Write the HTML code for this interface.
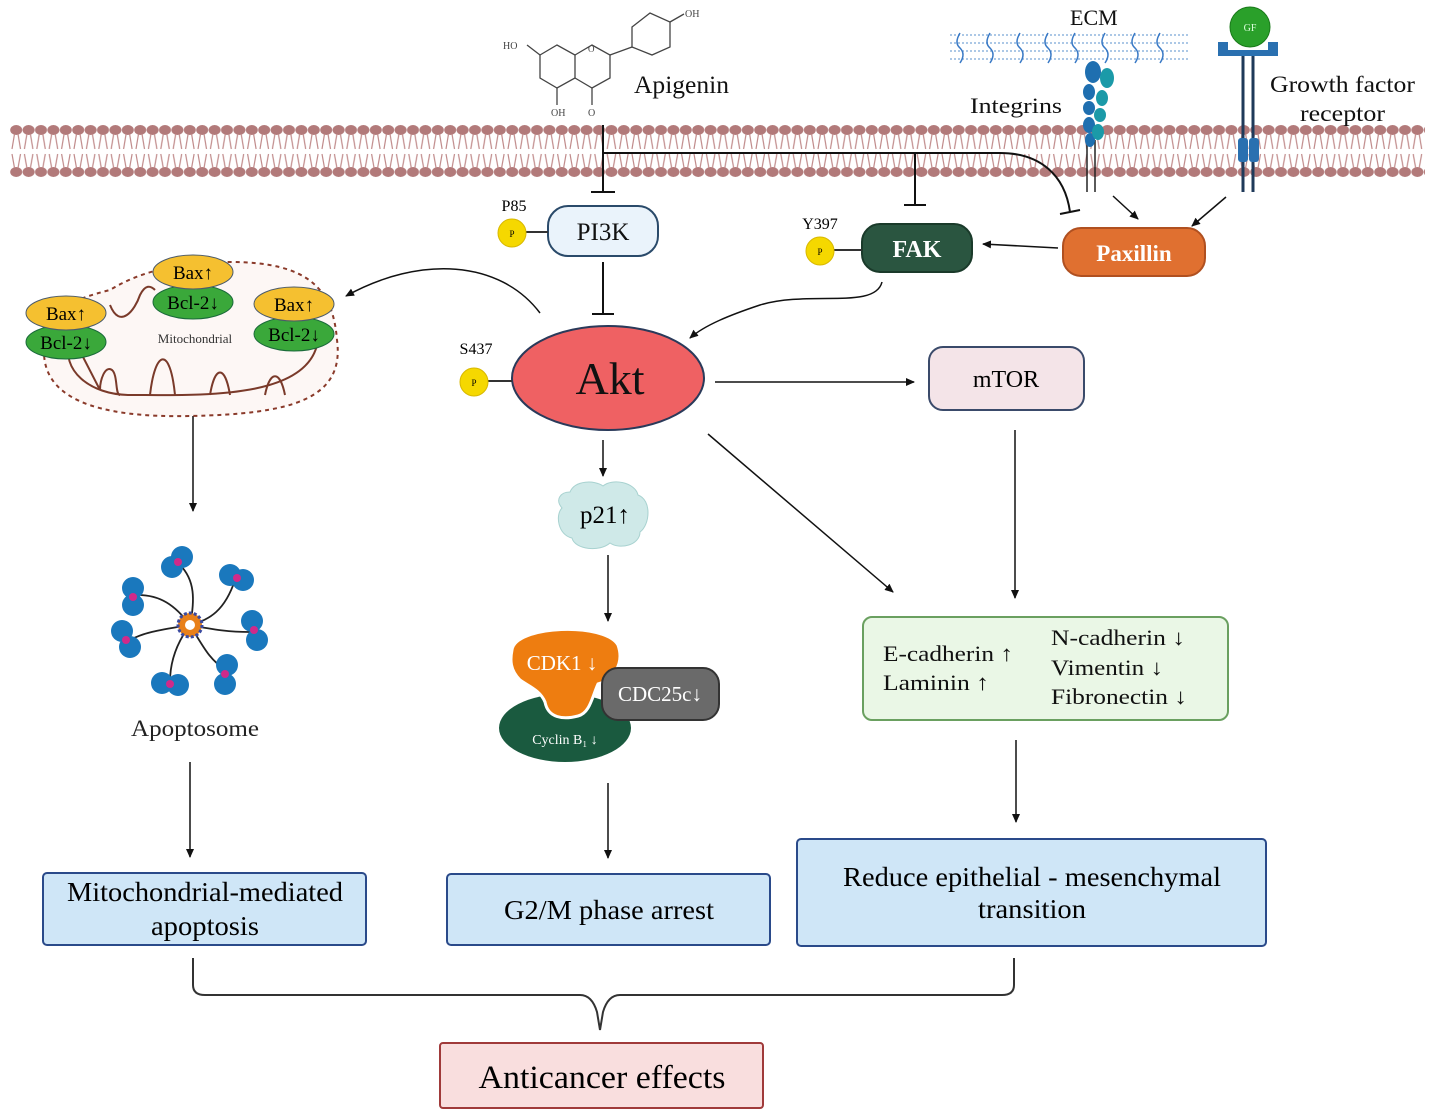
<!DOCTYPE html>
<html><head><meta charset="utf-8"><style>
html,body{margin:0;padding:0;background:#fff;}
svg{display:block;}
text{font-family:"Liberation Serif",serif;}
</style></head><body>
<svg width="1430" height="1114" viewBox="0 0 1430 1114" xmlns="http://www.w3.org/2000/svg">
<defs>
<pattern id="mem" x="10" y="120" width="12.4" height="60" patternUnits="userSpaceOnUse">
<ellipse cx="6.2" cy="10" rx="6" ry="5" fill="#b27a7a"/>
<ellipse cx="6.2" cy="52" rx="6" ry="5" fill="#b27a7a"/>
<path d="M4.5 14 L2 29 M8 14 L10.5 29 M4.5 48 L2 34 M8 48 L10.5 34" stroke="#c08a8a" stroke-width="1.2"/>
</pattern>
<marker id="ar" markerWidth="10" markerHeight="10" refX="8" refY="5" orient="auto" markerUnits="userSpaceOnUse"><path d="M0 1 L9 5 L0 9 Z" fill="#111"/></marker>
</defs>

<rect x="10" y="120" width="1415" height="60" fill="url(#mem)"/>

<!-- apigenin -->
<g stroke="#444" stroke-width="1.3" fill="none">
<path d="M540 55 L557 45 L575 55 L575 78 L557 88 L540 78 Z"/>
<path d="M575 55 L592 45 L610 55 L610 78 L592 88 L575 78"/>
<path d="M632 27 L650 13 L670 22 L670 47 L652 55 L632 47 Z"/>
<path d="M610 55 L632 47 M527 45 L540 55 M557 88 L557 105 M592 88 L592 105 M670 22 L684 14"/>
</g>
<text x="503" y="49" font-size="10" fill="#444">HO</text>
<text x="551" y="116" font-size="10" fill="#444">OH</text>
<text x="588" y="116" font-size="10" fill="#444">O</text>
<text x="588" y="52" font-size="9" fill="#444">O</text>
<text x="685" y="17" font-size="10" fill="#444">OH</text>
<text x="634" y="93" font-size="25" fill="#111" textLength="95" lengthAdjust="spacingAndGlyphs">Apigenin</text>

<!-- ECM -->
<g stroke="#7aa6d6" stroke-width="1.2" fill="none" stroke-dasharray="2 2">
<path d="M950 35 H1190 M950 43 H1190 M950 51 H1190 M950 59 H1190"/>
</g>
<g stroke="#3a7ac6" stroke-width="1.5" fill="none">
<path d="M960 33 q-6 10 0 15 q6 6 0 15"/><path d="M990 33 q-6 10 0 15 q6 6 0 15"/>
<path d="M1020 33 q-6 10 0 15 q6 6 0 15"/><path d="M1048 33 q-6 10 0 15 q6 6 0 15"/>
<path d="M1075 33 q-6 10 0 15 q6 6 0 15"/><path d="M1105 33 q-6 10 0 15 q6 6 0 15"/>
<path d="M1135 33 q-6 10 0 15 q6 6 0 15"/><path d="M1160 33 q-6 10 0 15 q6 6 0 15"/>
</g>
<text x="1070" y="25" font-size="22" fill="#111">ECM</text>
<text x="970" y="113" font-size="22" fill="#111" textLength="92" lengthAdjust="spacingAndGlyphs">Integrins</text>
<text x="1270" y="92" font-size="23" fill="#111" textLength="145" lengthAdjust="spacingAndGlyphs">Growth factor</text>
<text x="1300" y="121" font-size="23" fill="#111" textLength="85" lengthAdjust="spacingAndGlyphs">receptor</text>

<!-- integrin -->
<g stroke="#222" stroke-width="1.5"><line x1="1087" y1="140" x2="1087" y2="192"/><line x1="1095" y1="140" x2="1095" y2="192"/></g>
<g fill="#1f6fb0"><ellipse cx="1093" cy="72" rx="8" ry="11"/><ellipse cx="1089" cy="92" rx="6" ry="8"/><ellipse cx="1089" cy="108" rx="6" ry="7"/><ellipse cx="1089" cy="125" rx="6" ry="8"/><ellipse cx="1090" cy="140" rx="5" ry="7"/></g>
<g fill="#1b9aa8"><ellipse cx="1107" cy="78" rx="7" ry="10"/><ellipse cx="1102" cy="98" rx="6" ry="8"/><ellipse cx="1100" cy="115" rx="6" ry="7"/><ellipse cx="1098" cy="132" rx="6" ry="8"/></g>

<!-- GF receptor -->
<g stroke="#1f3a5a" stroke-width="3"><line x1="1243" y1="50" x2="1243" y2="192"/><line x1="1253" y1="50" x2="1253" y2="192"/></g>
<path d="M1218 42 h10 v8 h40 v-8 h10 v14 h-60 z" fill="#2a70b0"/>
<rect x="1238" y="138" width="10" height="24" rx="3" fill="#2a70b0"/><rect x="1249" y="138" width="10" height="24" rx="3" fill="#2a70b0"/>
<circle cx="1250" cy="27" r="20" fill="#2aa02a" stroke="#1a7a1a"/>
<text x="1250" y="31" font-size="10" fill="#dfd" text-anchor="middle" font-family="Liberation Sans,sans-serif">GF</text>

<!-- inhibition -->
<g stroke="#111" stroke-width="2" fill="none">
<line x1="603" y1="125" x2="603" y2="192"/><line x1="591" y1="192" x2="615" y2="192"/>
<path d="M603 153 H1000 C1040 153 1065 175 1070 212"/><line x1="1060" y1="214" x2="1080" y2="210"/>
<line x1="915" y1="153" x2="915" y2="205"/><line x1="904" y1="205" x2="926" y2="205"/>
<line x1="603" y1="262" x2="603" y2="314"/><line x1="592" y1="314" x2="614" y2="314"/>
</g>

<g stroke="#111" stroke-width="1.5" fill="none" marker-end="url(#ar)">
<line x1="1113" y1="196" x2="1138" y2="219"/>
<line x1="1226" y1="197" x2="1192" y2="226"/>
<line x1="1058" y1="248" x2="983" y2="244"/>
<path d="M882 282 C875 310 810 290 760 305 C730 315 705 325 690 338"/>
<path d="M540 313 C500 260 420 255 346 296"/>
<line x1="715" y1="382" x2="914" y2="382"/>
<line x1="708" y1="434" x2="893" y2="592"/>
<line x1="1015" y1="430" x2="1015" y2="598"/>
<line x1="603" y1="440" x2="603" y2="476"/>
<line x1="608" y1="555" x2="608" y2="621"/>
<line x1="608" y1="783" x2="608" y2="858"/>
<line x1="193" y1="416" x2="193" y2="511"/>
<line x1="190" y1="762" x2="190" y2="857"/>
<line x1="1016" y1="740" x2="1016" y2="822"/>
</g>

<!-- PI3K -->
<rect x="548" y="206" width="110" height="50" rx="20" fill="#eaf3fb" stroke="#2a4a6a" stroke-width="2"/>
<text x="603" y="240" font-size="25" fill="#111" text-anchor="middle">PI3K</text>
<line x1="526" y1="232" x2="548" y2="232" stroke="#333" stroke-width="2"/>
<circle cx="512" cy="233" r="14" fill="#f5d800" stroke="#d8b800"/>
<text x="512" y="237" font-size="9" text-anchor="middle">P</text>
<text x="514" y="211" font-size="16" text-anchor="middle">P85</text>

<!-- Akt -->
<ellipse cx="608" cy="378" rx="96" ry="52" fill="#ef6163" stroke="#2a3a5a" stroke-width="2"/>
<text x="610" y="394" font-size="46" text-anchor="middle" fill="#111">Akt</text>
<line x1="488" y1="381" x2="512" y2="381" stroke="#333" stroke-width="2"/>
<circle cx="474" cy="382" r="14" fill="#f5d800" stroke="#d8b800"/>
<text x="474" y="386" font-size="9" text-anchor="middle">P</text>
<text x="476" y="354" font-size="16" text-anchor="middle">S437</text>

<!-- FAK -->
<rect x="862" y="224" width="110" height="48" rx="18" fill="#2a5540" stroke="#1a3a2a" stroke-width="2"/>
<text x="917" y="257" font-size="24" font-weight="bold" fill="#fff" text-anchor="middle">FAK</text>
<line x1="834" y1="250" x2="862" y2="250" stroke="#333" stroke-width="2"/>
<circle cx="820" cy="251" r="14" fill="#f5d800" stroke="#d8b800"/>
<text x="820" y="255" font-size="9" text-anchor="middle">P</text>
<text x="820" y="229" font-size="16" text-anchor="middle">Y397</text>

<!-- Paxillin -->
<rect x="1063" y="228" width="142" height="48" rx="18" fill="#e07030" stroke="#b05020" stroke-width="2"/>
<text x="1134" y="261" font-size="23" font-weight="bold" fill="#fff" text-anchor="middle">Paxillin</text>

<!-- mTOR -->
<rect x="929" y="347" width="155" height="63" rx="14" fill="#f4e4e8" stroke="#3a4a6a" stroke-width="2"/>
<text x="1006" y="387" font-size="24" text-anchor="middle">mTOR</text>

<!-- Mitochondria -->
<path d="M45 340 C35 400 100 418 190 416 C290 414 345 400 337 340 C333 290 310 262 230 262 C200 262 150 265 110 290 C70 300 50 310 45 340 Z" fill="#fdf7f5" stroke="#8a3a2a" stroke-width="2" stroke-dasharray="4 4"/>
<path d="M70 340 C60 370 90 395 130 395 C200 395 310 400 318 340 M110 305 C120 330 135 310 140 295 C145 285 150 285 155 290" fill="none" stroke="#7a3a2a" stroke-width="2"/>
<path d="M82 355 L100 390 M100 390 C100 380 105 365 112 370 C118 375 115 395 120 395 M150 395 C155 350 170 345 175 395 M210 395 C215 365 225 365 230 395 M265 395 C270 370 280 370 285 395" fill="none" stroke="#7a3a2a" stroke-width="2"/>
<text x="195" y="343" font-size="13" text-anchor="middle" fill="#333">Mitochondrial</text>
<g font-size="19" text-anchor="middle">
<ellipse cx="66" cy="342" rx="40" ry="17" fill="#3aa83a" stroke="#1a6a3a"/><ellipse cx="66" cy="313" rx="40" ry="17" fill="#f5c030" stroke="#4a5a6a"/>
<text x="66" y="349">Bcl-2↓</text><text x="66" y="320">Bax↑</text>
<ellipse cx="193" cy="302" rx="40" ry="17" fill="#3aa83a" stroke="#1a6a3a"/><ellipse cx="193" cy="272" rx="40" ry="17" fill="#f5c030" stroke="#4a5a6a"/>
<text x="193" y="309">Bcl-2↓</text><text x="193" y="279">Bax↑</text>
<ellipse cx="294" cy="334" rx="40" ry="17" fill="#3aa83a" stroke="#1a6a3a"/><ellipse cx="294" cy="304" rx="40" ry="17" fill="#f5c030" stroke="#4a5a6a"/>
<text x="294" y="341">Bcl-2↓</text><text x="294" y="311">Bax↑</text>
</g>

<!-- Apoptosome -->
<g stroke="#222" stroke-width="1.8" fill="none">
<path d="M190 625 C195 600 195 580 180 565"/><path d="M190 625 C210 620 225 610 235 580"/>
<path d="M190 625 C175 605 160 595 138 595"/><path d="M190 625 C215 630 230 632 250 632"/>
<path d="M190 625 C160 630 145 632 130 640"/><path d="M190 625 C205 650 210 660 228 672"/>
<path d="M190 625 C175 645 170 665 170 682"/>
</g>
<g fill="#1a78bd">
<circle cx="182" cy="557" r="11"/><circle cx="172" cy="567" r="11"/>
<circle cx="230" cy="575" r="11"/><circle cx="243" cy="580" r="11"/>
<circle cx="133" cy="588" r="11"/><circle cx="133" cy="605" r="11"/>
<circle cx="252" cy="621" r="11"/><circle cx="257" cy="640" r="11"/>
<circle cx="122" cy="631" r="11"/><circle cx="130" cy="647" r="11"/>
<circle cx="227" cy="665" r="11"/><circle cx="225" cy="684" r="11"/>
<circle cx="162" cy="683" r="11"/><circle cx="178" cy="685" r="11"/>
</g>
<g fill="#d02a8a">
<circle cx="178" cy="562" r="4"/><circle cx="237" cy="578" r="4"/><circle cx="133" cy="597" r="4"/><circle cx="254" cy="630" r="4"/><circle cx="126" cy="640" r="4"/><circle cx="225" cy="674" r="4"/><circle cx="170" cy="684" r="4"/>
</g>
<circle cx="190" cy="625" r="12" fill="#e8801a" stroke="#3a4aa0" stroke-width="3" stroke-dasharray="3 2"/>
<circle cx="190" cy="625" r="5" fill="#fff"/>
<text x="195" y="736" font-size="23" text-anchor="middle" fill="#222" textLength="128" lengthAdjust="spacingAndGlyphs">Apoptosome</text>

<!-- p21 -->
<path d="M570 492 C575 480 595 480 603 486 C612 478 635 482 638 495 C652 500 650 525 640 532 C640 545 620 550 610 543 C600 552 575 550 572 538 C558 535 555 515 562 508 C555 500 560 492 570 492 Z" fill="#cfe9e8" stroke="#a8d2d0"/>
<text x="605" y="523" font-size="25" text-anchor="middle">p21↑</text>

<!-- CDK complex -->
<ellipse cx="565" cy="728" rx="66" ry="34" fill="#1a5a3f"/>
<path d="M512 650 C515 625 605 622 618 645 C625 665 612 680 598 684 C592 697 590 713 578 716 C563 720 548 718 545 702 C540 690 528 686 520 680 C510 670 510 660 512 650 Z" fill="#ee7d10" stroke="#fff" stroke-width="3"/>
<text x="562" y="670" font-size="21" fill="#fff" text-anchor="middle" font-family="Liberation Sans,sans-serif">CDK1 ↓</text>
<rect x="602" y="668" width="117" height="52" rx="16" fill="#6a6a6a" stroke="#333" stroke-width="2"/>
<text x="660" y="701" font-size="21" fill="#fff" text-anchor="middle" font-family="Liberation Sans,sans-serif">CDC25c↓</text>
<text x="565" y="744" font-size="14" fill="#fff" text-anchor="middle" font-family="Liberation Sans,sans-serif">Cyclin B₁ ↓</text>

<!-- EMT markers -->
<rect x="863" y="617" width="365" height="103" rx="9" fill="#eaf7e6" stroke="#6aa060" stroke-width="2"/>
<g font-size="22" fill="#111">
<text x="883" y="661" textLength="130" lengthAdjust="spacingAndGlyphs">E-cadherin ↑</text><text x="883" y="690" textLength="106" lengthAdjust="spacingAndGlyphs">Laminin ↑</text>
<text x="1051" y="645" textLength="134" lengthAdjust="spacingAndGlyphs">N-cadherin ↓</text><text x="1051" y="675" textLength="112" lengthAdjust="spacingAndGlyphs">Vimentin ↓</text><text x="1051" y="704" textLength="136" lengthAdjust="spacingAndGlyphs">Fibronectin ↓</text>
</g>

<!-- results -->
<rect x="43" y="873" width="323" height="72" rx="4" fill="#cfe6f7" stroke="#2a4a8a" stroke-width="2"/>
<text x="205" y="901" font-size="27" text-anchor="middle" textLength="276" lengthAdjust="spacingAndGlyphs">Mitochondrial-mediated</text>
<text x="205" y="935" font-size="27" text-anchor="middle" textLength="108" lengthAdjust="spacingAndGlyphs">apoptosis</text>
<rect x="447" y="874" width="323" height="71" rx="4" fill="#cfe6f7" stroke="#2a4a8a" stroke-width="2"/>
<text x="609" y="919" font-size="27" text-anchor="middle" textLength="210" lengthAdjust="spacingAndGlyphs">G2/M phase arrest</text>
<rect x="797" y="839" width="469" height="107" rx="4" fill="#cfe6f7" stroke="#2a4a8a" stroke-width="2"/>
<text x="1032" y="886" font-size="27" text-anchor="middle" textLength="378" lengthAdjust="spacingAndGlyphs">Reduce epithelial - mesenchymal</text>
<text x="1032" y="918" font-size="27" text-anchor="middle" textLength="108" lengthAdjust="spacingAndGlyphs">transition</text>

<path d="M193 958 V985 Q193 995 205 995 H580 Q592 995 597 1012 L600 1030 L603 1012 Q608 995 620 995 H1002 Q1014 995 1014 985 V958" fill="none" stroke="#333" stroke-width="2"/>

<rect x="440" y="1043" width="323" height="65" rx="3" fill="#f9dede" stroke="#a03a3a" stroke-width="2"/>
<text x="602" y="1088" font-size="33" text-anchor="middle" textLength="247" lengthAdjust="spacingAndGlyphs">Anticancer effects</text>
</svg>
</body></html>
